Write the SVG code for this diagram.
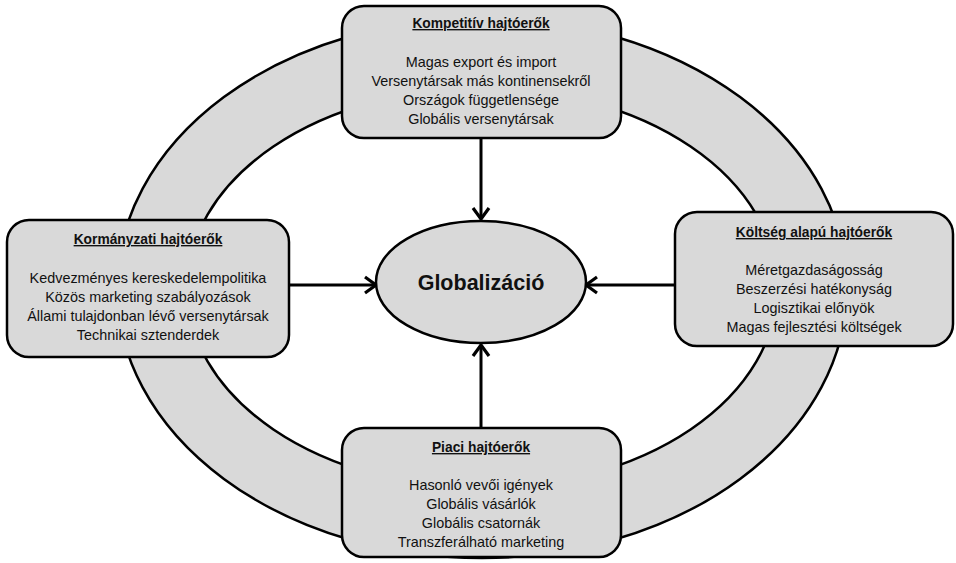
<svg xmlns="http://www.w3.org/2000/svg" width="956" height="563" viewBox="0 0 956 563">
<style>
.shape{fill:#d9d9d9;stroke:#000;stroke-width:2.5}
.title{font-family:"Liberation Sans",Arial,sans-serif;font-weight:bold;font-size:13.8px;text-anchor:middle;text-decoration:underline;fill:#111}
.item{font-family:"Liberation Sans",Arial,sans-serif;font-size:14.4px;text-anchor:middle;fill:#111}
.center{font-family:"Liberation Sans",Arial,sans-serif;font-weight:bold;font-size:21.5px;text-anchor:middle;fill:#111}
.conn{stroke:#000;stroke-width:3;fill:none;marker-end:url(#arr)}
</style>
<defs>
<marker id="arr" markerUnits="userSpaceOnUse" markerWidth="20" markerHeight="20" viewBox="0 0 20 20" refX="14" refY="10" orient="auto">
<path d="M3,2 L14,10 L3,18" fill="none" stroke="#000" stroke-width="3.2"/>
</marker>
</defs>
<rect width="956" height="563" fill="#fff"/>
<g id="ring">
<ellipse cx="482" cy="288" rx="365" ry="270" class="shape"/>
<ellipse cx="482" cy="288" rx="295" ry="200" fill="#fff" stroke="#000" stroke-width="2.5"/>
</g>
<g id="connectors">
<line x1="481" y1="138" x2="481" y2="219" class="conn"/>
<line x1="288" y1="285" x2="376" y2="285" class="conn"/>
<line x1="674" y1="285" x2="586" y2="285" class="conn"/>
<line x1="481" y1="428" x2="481" y2="345" class="conn"/>
</g>
<g id="kompetitiv">
<rect x="342" y="6" width="279" height="132" rx="22" class="shape"/>
<text x="481" y="28" class="title">Kompetitív hajtóerők</text>
<text x="481" y="67" class="item">Magas export és import</text>
<text x="481" y="86" class="item">Versenytársak más kontinensekről</text>
<text x="481" y="105" class="item">Országok függetlensége</text>
<text x="481" y="124" class="item">Globális versenytársak</text>
</g>
<g id="kormanyzati">
<rect x="7" y="220" width="282" height="137" rx="22" class="shape"/>
<text x="148" y="244" class="title">Kormányzati hajtóerők</text>
<text x="148" y="283" class="item">Kedvezményes kereskedelempolitika</text>
<text x="148" y="302" class="item">Közös marketing szabályozások</text>
<text x="148" y="321" class="item">Állami tulajdonban lévő versenytársak</text>
<text x="148" y="340" class="item">Technikai sztenderdek</text>
</g>
<g id="koltseg">
<rect x="675" y="212" width="278" height="134" rx="22" class="shape"/>
<text x="814" y="237" class="title">Költség alapú  hajtóerők</text>
<text x="814" y="275" class="item">Méretgazdaságosság</text>
<text x="814" y="294" class="item">Beszerzési hatékonyság</text>
<text x="814" y="313" class="item">Logisztikai előnyök</text>
<text x="814" y="332" class="item">Magas fejlesztési költségek</text>
</g>
<g id="piaci">
<rect x="342" y="428" width="279" height="129" rx="22" class="shape"/>
<text x="481" y="452" class="title">Piaci hajtóerők</text>
<text x="481" y="490" class="item">Hasonló vevői igények</text>
<text x="481" y="509" class="item">Globális vásárlók</text>
<text x="481" y="528" class="item">Globális csatornák</text>
<text x="481" y="547" class="item">Transzferálható marketing</text>
</g>
<g id="globalizacio">
<ellipse cx="481" cy="282" rx="105" ry="61" class="shape"/>
<text x="481" y="290" class="center">Globalizáció</text>
</g>
</svg>
